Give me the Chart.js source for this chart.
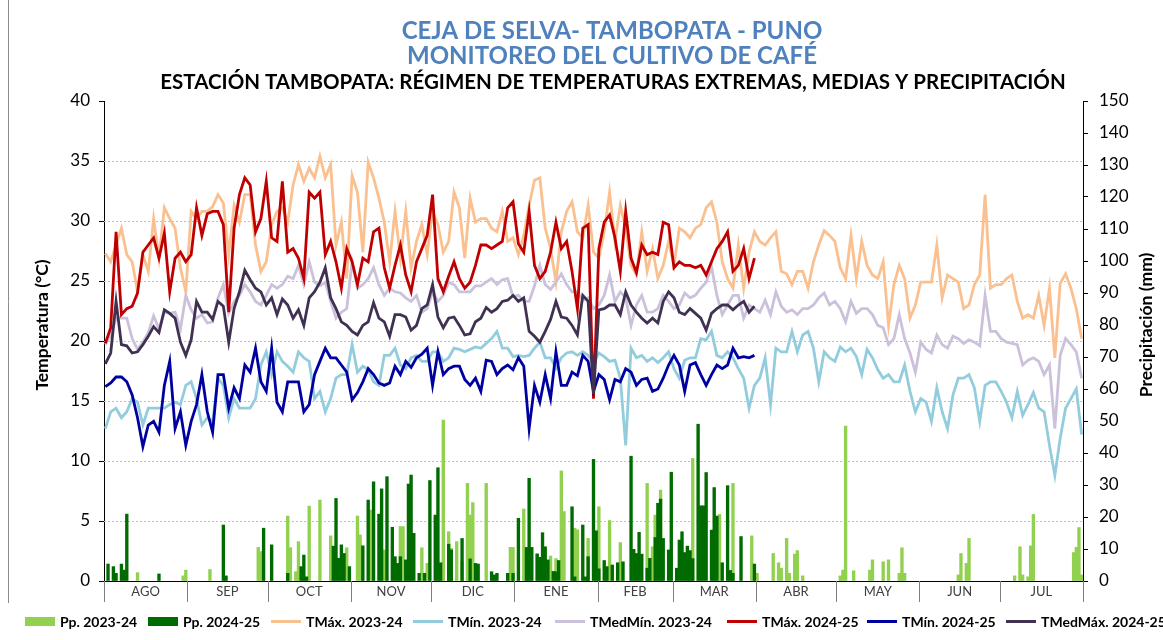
<!DOCTYPE html>
<html lang="es">
<head>
<meta charset="utf-8">
<title>Estación Tambopata</title>
<script src="https://cdn.jsdelivr.net/npm/chart.js@4.4.1/dist/chart.umd.min.js"></script>
<style>
  html, body { margin: 0; padding: 0; background: #fff; }
  #contenedor { position: relative; width: 1163px; height: 640px; overflow: hidden; }
  #leyenda { position: absolute; left: 0; top: 611px; width: 1163px; height: 20px; white-space: nowrap; font: bold 14px Lato, sans-serif; color: #000; }
  .item { position: absolute; top: 0; height: 20px; display: flex; align-items: center; }
  .caja { width: 30px; height: 9px; margin-right: 5px; }
  .linea { width: 30px; height: 3px; margin-right: 5px; }
</style>
</head>
<body>
<div id="contenedor">
  <canvas id="grafico" width="1163" height="640"></canvas>
  <div id="leyenda">
    <div class="item" style="left:25px"><span class="caja" style="background:#92D050"></span>Pp. 2023-24</div>
    <div class="item" style="left:148px"><span class="caja" style="background:#006B00"></span>Pp. 2024-25</div>
    <div class="item" style="left:271px"><span class="linea" style="background:#FAC090"></span>TMáx. 2023-24</div>
    <div class="item" style="left:413px"><span class="linea" style="background:#93CDDD"></span>TMín. 2023-24</div>
    <div class="item" style="left:555px"><span class="linea" style="background:#CCC1DA"></span>TMedMín. 2023-24</div>
    <div class="item" style="left:727px"><span class="linea" style="background:#C00000"></span>TMáx. 2024-25</div>
    <div class="item" style="left:867px"><span class="linea" style="background:#0000A0"></span>TMín. 2024-25</div>
    <div class="item" style="left:1006px"><span class="linea" style="background:#403152"></span>TMedMáx. 2024-25</div>
  </div>
</div>
<script>
const meses = ["AGO", "SEP", "OCT", "NOV", "DIC", "ENE", "FEB", "MAR", "ABR", "MAY", "JUN", "JUL"];
const inicioMes = [0, 31, 61, 92, 122, 153, 184, 212, 243, 273, 304, 334, 365];

// temperaturas leidas cada 2 dias (dia 0 = 1 de agosto)
const tmax2324 = [27.3, 26.6, 28.0, 29.4, 27.2, 26.6, 24.1, 27.2, 25.8, 30.2, 26.9, 31.1, 30.2, 29.4, 26.1, 24.1, 30.8, 30.2, 30.8, 30.8, 31.2, 32.2, 31.5, 27.2, 31.3, 29.9, 32.2, 32.2, 28.0, 25.8,
  26.6, 29.7, 30.8, 31.1, 29.9, 33.0, 34.7, 33.3, 34.4, 33.6, 35.4, 33.6, 34.7, 28.0, 29.9, 25.2, 33.8, 32.4, 27.4, 34.9, 33.6, 31.9, 29.9, 26.6, 30.8, 26.9, 30.8, 26.1, 28.3, 29.7, 27.2, 30.8,
  29.7, 27.4, 28.3, 32.4, 31.1, 26.9, 31.9, 29.9, 30.2, 30.2, 29.4, 29.1, 30.8, 28.3, 28.6, 27.2, 28.8, 31.3, 33.4, 33.6, 29.4, 27.7, 24.9, 29.1, 30.8, 31.6, 29.1, 28.6, 31.3, 27.4, 26.9,
  29.1, 32.4, 28.3, 31.3, 29.4, 26.3, 25.5, 29.1, 25.8, 27.7, 25.2, 26.3, 28.3, 26.3, 29.4, 29.1, 28.6, 29.4, 29.7, 31.1, 31.6, 29.9, 26.6, 25.2, 24.4, 28.0, 24.4, 27.4, 29.1, 28.3, 28.0,
  28.6, 29.1, 25.8, 25.6, 24.7, 25.8, 25.8, 24.4, 26.6, 28.0, 29.2, 28.8, 28.3, 26.1, 25.2, 28.8, 25.2, 28.3, 26.3, 25.5, 25.2, 26.6, 21.3, 24.7, 26.3, 25.2, 21.9, 23.0, 24.9, 24.9, 24.9, 28.0,
  23.6, 25.5, 25.2, 24.9, 22.7, 23.0, 24.7, 25.5, 32.2, 24.4, 24.7, 24.7, 25.2, 25.5, 23.3, 21.9, 22.2, 21.9, 23.8, 21.3, 24.4, 18.6, 24.8, 25.6, 24.4, 22.7, 20.2];
const tmin2324 = [12.7, 14.1, 14.4, 13.6, 14.1, 15.2, 14.9, 13.0, 14.4, 14.4, 14.4, 14.4, 14.7, 14.9, 14.7, 16.3, 16.6, 15.2, 13.0, 13.6, 13.3, 16.9, 16.3, 13.6, 15.2, 14.4, 14.4, 14.4, 15.2, 18.0,
  19.1, 17.2, 19.1, 18.3, 17.9, 17.4, 19.1, 18.6, 18.3, 15.2, 15.8, 14.1, 15.2, 16.9, 17.2, 17.2, 19.7, 17.4, 17.9, 17.6, 16.6, 16.3, 18.8, 18.8, 19.4, 18.0, 17.7, 18.6, 18.8, 18.3, 18.3, 19.1,
  19.1, 18.3, 18.6, 19.4, 19.3, 19.1, 19.3, 19.5, 19.4, 19.8, 20.2, 20.8, 19.4, 19.4, 18.7, 18.8, 18.7, 18.8, 19.4, 19.9, 18.6, 18.6, 17.7, 18.6, 19.0, 19.1, 18.8, 19.1, 18.8, 18.2, 19.0,
  18.7, 18.3, 18.4, 16.9, 11.3, 19.4, 18.6, 18.8, 18.3, 18.6, 18.2, 18.6, 19.1, 17.7, 16.9, 18.4, 18.6, 18.6, 20.2, 20.1, 20.8, 18.8, 18.6, 19.1, 18.6, 17.7, 16.9, 14.4, 16.3, 16.9, 18.6,
  14.7, 19.4, 19.1, 19.1, 20.8, 19.1, 20.5, 20.8, 19.4, 16.6, 19.1, 18.6, 18.3, 19.5, 19.1, 19.4, 18.7, 17.2, 19.3, 18.6, 17.6, 16.9, 17.2, 16.6, 16.6, 18.0, 15.8, 14.1, 15.2, 14.9, 13.3, 16.1,
  14.1, 12.7, 15.5, 16.9, 16.9, 17.2, 16.1, 13.3, 16.3, 16.6, 16.6, 15.8, 14.9, 13.6, 15.8, 13.8, 14.7, 15.7, 14.4, 14.1, 11.3, 8.8, 11.9, 14.4, 15.2, 16.0, 12.2];
const tmedmin2324 = [19.7, 20.5, 21.9, 21.9, 21.9, 20.2, 19.3, 19.9, 20.7, 22.1, 21.0, 22.4, 22.3, 22.4, 21.0, 23.8, 22.6, 21.9, 22.2, 21.5, 21.6, 23.6, 24.7, 22.3, 23.3, 23.8, 24.7, 24.1, 23.3, 23.0,
  23.8, 24.7, 24.4, 24.7, 25.4, 25.2, 26.3, 24.7, 26.6, 24.9, 24.6, 24.9, 23.3, 21.9, 22.4, 22.7, 26.6, 24.4, 24.7, 25.2, 26.1, 24.7, 23.8, 24.4, 24.1, 24.0, 23.6, 23.3, 23.8, 22.4, 22.7, 24.1,
  23.3, 23.8, 24.9, 24.7, 24.1, 24.1, 24.1, 24.6, 24.6, 24.9, 25.2, 24.7, 25.1, 25.2, 23.7, 23.8, 23.3, 23.3, 24.6, 26.3, 24.7, 24.3, 24.9, 25.6, 24.7, 24.1, 24.1, 23.4, 23.6, 22.7, 23.0,
  23.8, 25.5, 23.3, 24.1, 23.6, 21.3, 23.0, 23.8, 22.4, 22.4, 22.7, 23.8, 23.3, 22.7, 23.0, 24.0, 23.6, 23.8, 24.4, 24.9, 26.2, 23.8, 22.2, 23.0, 23.8, 23.8, 21.9, 23.0, 22.7, 22.4, 23.4,
  22.2, 24.1, 22.9, 22.4, 22.6, 22.2, 22.7, 22.7, 23.0, 23.6, 24.0, 23.0, 23.3, 22.7, 21.6, 23.3, 22.3, 22.7, 22.7, 22.2, 21.3, 21.1, 19.7, 20.2, 22.2, 20.2, 19.0, 17.4, 19.9, 19.3, 19.0, 20.5,
  19.7, 19.4, 20.4, 20.2, 19.8, 20.1, 19.9, 19.6, 23.8, 20.8, 20.8, 20.2, 19.9, 19.8, 19.7, 18.0, 18.4, 18.6, 18.3, 17.2, 18.0, 12.7, 18.8, 20.2, 19.7, 19.1, 16.9];
const tmax2425 = [19.8, 21.1, 29.1, 22.2, 22.7, 22.9, 24.0, 27.4, 28.0, 28.6, 26.9, 29.0, 24.1, 26.9, 27.4, 26.6, 27.2, 31.1, 28.8, 30.6, 30.8, 30.8, 29.7, 22.4, 29.4, 32.2, 33.6, 33.0, 29.1, 30.2,
  33.3, 28.6, 28.3, 33.3, 27.4, 27.7, 26.9, 25.2, 32.4, 31.9, 32.4, 27.2, 28.3, 26.6, 24.4, 27.7, 26.6, 24.7, 26.9, 26.6, 29.1, 29.4, 26.1, 24.4, 26.3, 28.0, 25.5, 24.1, 26.6, 27.7, 28.8, 32.2,
  25.2, 24.1, 25.4, 26.6, 25.2, 24.4, 24.9, 26.3, 28.0, 28.0, 27.7, 28.0, 28.3, 31.1, 31.6, 28.1, 27.4, 30.8, 26.3, 25.2, 25.8, 27.4, 29.9, 27.7, 28.3, 25.8, 22.7, 29.4, 29.7, 15.2, 27.7,
  29.9, 30.5, 28.6, 25.8, 30.8, 26.9, 25.7, 28.0, 27.2, 27.4, 27.2, 29.9, 29.7, 26.1, 26.6, 26.3, 26.3, 26.1, 26.3, 25.5, 26.6, 27.7, 28.3, 29.1, 25.8, 26.3, 27.7, 25.2, 26.9];
const tmin2425 = [16.2, 16.5, 17.0, 17.0, 16.6, 15.5, 13.6, 11.2, 13.0, 13.3, 12.4, 16.3, 18.3, 12.7, 14.1, 11.3, 13.3, 14.7, 17.2, 14.1, 12.4, 17.2, 17.2, 14.4, 16.1, 15.2, 18.0, 17.4, 19.4, 16.6,
  15.8, 19.4, 14.9, 14.1, 16.6, 16.6, 16.6, 14.1, 14.7, 17.2, 18.3, 19.4, 18.6, 18.6, 18.0, 17.4, 15.1, 15.7, 16.6, 17.7, 17.2, 16.5, 16.3, 16.5, 17.9, 17.2, 18.3, 17.8, 18.6, 18.9, 19.4, 16.3,
  19.1, 17.2, 17.7, 17.9, 17.9, 16.8, 16.3, 16.9, 15.8, 18.4, 18.3, 17.2, 17.7, 18.0, 17.6, 18.6, 17.9, 12.7, 16.3, 14.9, 17.2, 15.2, 19.1, 16.3, 16.3, 17.4, 17.1, 18.8, 18.3, 15.8, 17.2,
  16.8, 15.1, 16.8, 16.6, 17.7, 17.4, 16.3, 16.8, 16.9, 15.8, 16.0, 16.9, 18.0, 18.8, 18.0, 15.8, 18.0, 18.2, 17.2, 16.3, 17.2, 18.0, 17.7, 18.0, 19.4, 18.6, 18.7, 18.6, 18.8];
const tmedmax2425 = [18.1, 19.0, 23.3, 19.7, 19.6, 19.0, 19.1, 19.7, 20.4, 21.2, 20.7, 22.6, 22.3, 21.9, 19.9, 18.8, 20.1, 23.3, 22.4, 22.4, 21.8, 23.3, 22.9, 19.9, 22.7, 24.1, 25.9, 25.1, 24.4, 24.1,
  23.0, 23.6, 22.2, 23.5, 23.0, 21.9, 22.6, 21.3, 23.6, 24.1, 24.9, 26.1, 23.6, 22.7, 21.6, 21.3, 20.8, 20.5, 21.3, 21.6, 23.2, 21.9, 21.6, 20.4, 22.2, 22.2, 22.0, 20.9, 21.3, 22.7, 23.0, 24.7,
  22.0, 21.1, 21.9, 22.0, 21.3, 20.5, 20.6, 21.6, 21.9, 22.8, 22.4, 22.7, 23.3, 23.4, 23.8, 23.3, 23.6, 20.8, 20.4, 19.9, 20.8, 21.8, 23.3, 22.0, 21.9, 21.3, 20.5, 23.8, 23.3, 15.6, 22.6,
  22.7, 23.0, 23.0, 22.2, 24.1, 23.0, 22.4, 21.9, 21.5, 21.9, 21.5, 23.3, 24.1, 23.6, 22.4, 22.2, 22.7, 22.3, 21.9, 20.9, 22.3, 22.7, 23.0, 23.0, 22.6, 23.0, 23.3, 22.4, 22.9];

// precipitacion diaria (solo dias con lluvia)
const ppDias2324 = [12, 29, 30, 39, 57, 58, 68, 69, 71, 72, 76, 80, 84, 90, 94, 95, 99, 104, 110, 111, 118, 120, 126, 128, 129, 131, 133, 135, 136, 137,
  142, 151, 152, 156, 161, 166, 168, 170, 171, 175, 176, 180, 184, 188, 192, 202, 204, 205, 207, 219, 229, 234, 241, 243, 249, 251, 252, 254, 255, 257,
  258, 260, 274, 275, 276, 279, 285, 286, 290, 292, 296, 297, 298, 318, 319, 321, 322, 339, 341, 342, 344, 345, 346, 361, 362, 363, 364];
const pp2324 = [2.6, 1.6, 3.4, 3.6, 10.5, 9.2, 20.3, 10.4, 2.9, 12.3, 23.4, 25.3, 14.1, 10.4, 20.3, 14.4, 22.2, 9.7, 17.0, 17.0, 10.4, 5.5, 50.3, 15.4, 10.2, 12.3, 6.0, 30.5, 20.6, 24.5,
  30.5, 10.5, 10.5, 22.5, 8.6, 7.8, 7.0, 34.4, 21.7, 16.5, 16.0, 13.3, 23.2, 18.9, 12.0, 30.5, 10.7, 20.6, 28.4, 38.3, 20.8, 30.5, 14.1, 2.4, 8.6, 5.7, 4.0, 13.3, 2.4, 8.4,
  9.5, 1.6, 1.6, 3.4, 48.4, 3.2, 3.4, 6.6, 6.0, 6.6, 2.4, 10.4, 2.4, 1.9, 8.6, 5.5, 13.3, 1.6, 10.7, 1.9, 1.3, 11.0, 20.8, 8.9, 10.5, 16.7, 1.9];
const ppDias2425 = [1, 3, 4, 6, 7, 8, 20, 44, 45, 59, 62, 68, 73, 74, 75, 85, 86, 87, 88, 89, 91, 96, 98, 100, 102, 103, 105, 107, 108, 109,
  110, 112, 113, 114, 115, 117, 119, 121, 123, 124, 125, 128, 129, 133, 136, 138, 139, 144, 145, 146, 150, 152, 154, 157, 158, 159, 161, 162, 163, 164,
  165, 167, 168, 169, 174, 175, 178, 179, 180, 182, 183, 184, 186, 187, 189, 191, 193, 196, 197, 198, 199, 200, 202, 203, 205, 206, 207, 208, 210, 211,
  213, 214, 215, 216, 217, 218, 219, 221, 222, 223, 224, 226, 227, 228, 230, 232, 233, 234, 237, 242];
const pp2425 = [5.3, 4.5, 2.4, 5.3, 3.4, 20.9, 2.2, 17.5, 1.6, 16.5, 11.3, 2.4, 4.5, 8.1, 1.3, 10.9, 25.8, 7.1, 11.3, 8.6, 4.5, 11.0, 25.3, 31.0, 20.9, 28.8, 32.6, 16.8, 7.6, 5.5,
  7.6, 6.6, 30.3, 33.1, 14.9, 2.4, 2.4, 31.4, 20.6, 35.4, 5.7, 11.5, 9.7, 13.3, 6.9, 5.5, 5.3, 2.9, 1.9, 2.4, 2.4, 2.4, 19.6, 10.5, 32.1, 10.5, 8.4, 7.4, 15.1, 10.7,
  6.6, 3.0, 2.9, 6.4, 23.2, 1.3, 17.5, 1.3, 7.6, 38.0, 15.7, 3.8, 6.4, 4.5, 5.0, 5.7, 6.0, 39.0, 9.9, 8.6, 15.2, 8.4, 4.0, 7.1, 13.6, 24.3, 25.6, 13.3, 9.7, 34.0,
  4.0, 12.8, 15.4, 8.9, 10.9, 9.5, 7.0, 49.0, 23.5, 23.5, 33.9, 15.9, 29.2, 20.3, 5.7, 29.8, 3.3, 2.4, 13.9, 5.3];

const dias = Array.from({ length: tmax2324.length }, (_, i) => i * 2);

const fuente = "Lato, 'Open Sans', sans-serif";

// titulos, lineas de division, cajas de meses y titulos de ejes
const decorado = {
    id: "decorado",
    beforeDatasetsDraw(chart) {
        const { ctx, chartArea: a, scales: { y } } = chart;
        ctx.save();
        ctx.strokeStyle = "#bfbfbf";
        ctx.lineWidth = 1;
        ctx.setLineDash([2, 2]);
        for (let v = 5; v <= 35; v += 5) {
            const py = Math.round(y.getPixelForValue(v)) + 0.5;
            ctx.beginPath();
            ctx.moveTo(a.left, py);
            ctx.lineTo(a.right, py);
            ctx.stroke();
        }
        ctx.restore();
    },
    afterDraw(chart) {
        const { ctx, chartArea: a, scales: { x } } = chart;
        ctx.save();
        ctx.textAlign = "center";
        ctx.textBaseline = "middle";
        ctx.fillStyle = "#4F81BD";
        ctx.font = "bold 24px " + fuente;
        ctx.fillText("CEJA DE SELVA- TAMBOPATA - PUNO", 612, 31);
        ctx.fillText("MONITOREO DEL CULTIVO DE CAFÉ", 612, 56);
        ctx.fillStyle = "#000";
        ctx.font = "bold 20.5px " + fuente;
        ctx.fillText("ESTACIÓN TAMBOPATA: RÉGIMEN DE TEMPERATURAS EXTREMAS, MEDIAS Y PRECIPITACIÓN", 613, 82);

        // titulos de los ejes
        ctx.font = "bold 17.5px " + fuente;
        ctx.save();
        ctx.translate(42, 325);
        ctx.rotate(-Math.PI / 2);
        ctx.fillText("Temperatura (°C)", 0, 0);
        ctx.restore();
        ctx.save();
        ctx.translate(1146, 325);
        ctx.rotate(-Math.PI / 2);
        ctx.fillText("Precipitación (mm)", 0, 0);
        ctx.restore();

        // borde izquierdo del grafico
        ctx.strokeStyle = "#8c8c8c";
        ctx.lineWidth = 1;
        ctx.beginPath();
        ctx.moveTo(8.5, 0);
        ctx.lineTo(8.5, 603);
        ctx.stroke();

        ctx.strokeStyle = "#000";
        ctx.beginPath();
        ctx.moveTo(a.left, a.bottom + 0.5);
        ctx.lineTo(a.right, a.bottom + 0.5);
        ctx.stroke();

        ctx.strokeStyle = "#7f7f7f";
        inicioMes.forEach((d) => {
            const px = Math.round(x.getPixelForValue(d - 0.5)) + 0.5;
            ctx.beginPath();
            ctx.moveTo(px, a.bottom);
            ctx.lineTo(px, a.bottom + 21);
            ctx.stroke();
        });
        ctx.fillStyle = "#404040";
        ctx.font = "13px " + fuente;
        meses.forEach((m, i) => {
            const c = (x.getPixelForValue(inicioMes[i] - 0.5) + x.getPixelForValue(inicioMes[i + 1] - 0.5)) / 2;
            ctx.fillText(m, c, a.bottom + 11);
        });
        ctx.restore();
    },
};

const linea = (label, data, color, order) => ({
    type: "line",
    label,
    data,
    borderColor: color,
    backgroundColor: color,
    borderWidth: 2.8,
    pointRadius: 0,
    tension: 0,
    yAxisID: "y",
    order,
});

const barras = (label, diasLluvia, valores, color, order) => ({
    type: "bar",
    label,
    data: diasLluvia.map((d, i) => ({ x: d, y: valores[i] })),
    backgroundColor: color,
    barThickness: 2.7,
    grouped: false,
    yAxisID: "y2",
    order,
});

new Chart(document.getElementById("grafico"), {
    type: "line",
    data: {
        labels: dias,
        datasets: [
            barras("Pp. 2023-24", ppDias2324, pp2324, "#92D050", 10),
            barras("Pp. 2024-25", ppDias2425, pp2425, "#006B00", 9),
            linea("TMáx. 2023-24", tmax2324, "#FAC090", 5),
            linea("TMín. 2023-24", tmin2324, "#93CDDD", 4),
            linea("TMedMín. 2023-24", tmedmin2324, "#CCC1DA", 3),
            linea("TMáx. 2024-25", tmax2425, "#C00000", 2),
            linea("TMín. 2024-25", tmin2425, "#0000A0", 1),
            linea("TMedMáx. 2024-25", tmedmax2425, "#403152", 0),
        ],
    },
    options: {
        responsive: false,
        animation: false,
        devicePixelRatio: 1,
        layout: { padding: { top: 101, bottom: 59, left: 0, right: 0 } },
        plugins: {
            legend: { display: false },
            tooltip: { enabled: false },
            title: { display: false },
        },
        scales: {
            x: { type: "linear", display: false, offset: false, grid: { offset: false }, min: -0.5, max: 364.5 },
            y: {
                position: "left",
                min: 0,
                max: 40,
                ticks: { stepSize: 5, color: "#000", padding: 9, font: { family: fuente, size: 17 } },
                grid: { drawOnChartArea: false, drawTicks: true, tickLength: 5, tickColor: "#000" },
                border: { color: "#000", width: 1 },
                afterFit(s) { s.width = 104; },
            },
            y2: {
                position: "right",
                min: 0,
                max: 150,
                ticks: { stepSize: 10, color: "#000", padding: 11, font: { family: fuente, size: 17 } },
                grid: { drawOnChartArea: false, drawTicks: true, tickLength: 5, tickColor: "#000" },
                border: { color: "#000", width: 1 },
                afterFit(s) { s.width = 80; },
            },
        },
    },
    plugins: [decorado],
});
</script>
</body>
</html>
